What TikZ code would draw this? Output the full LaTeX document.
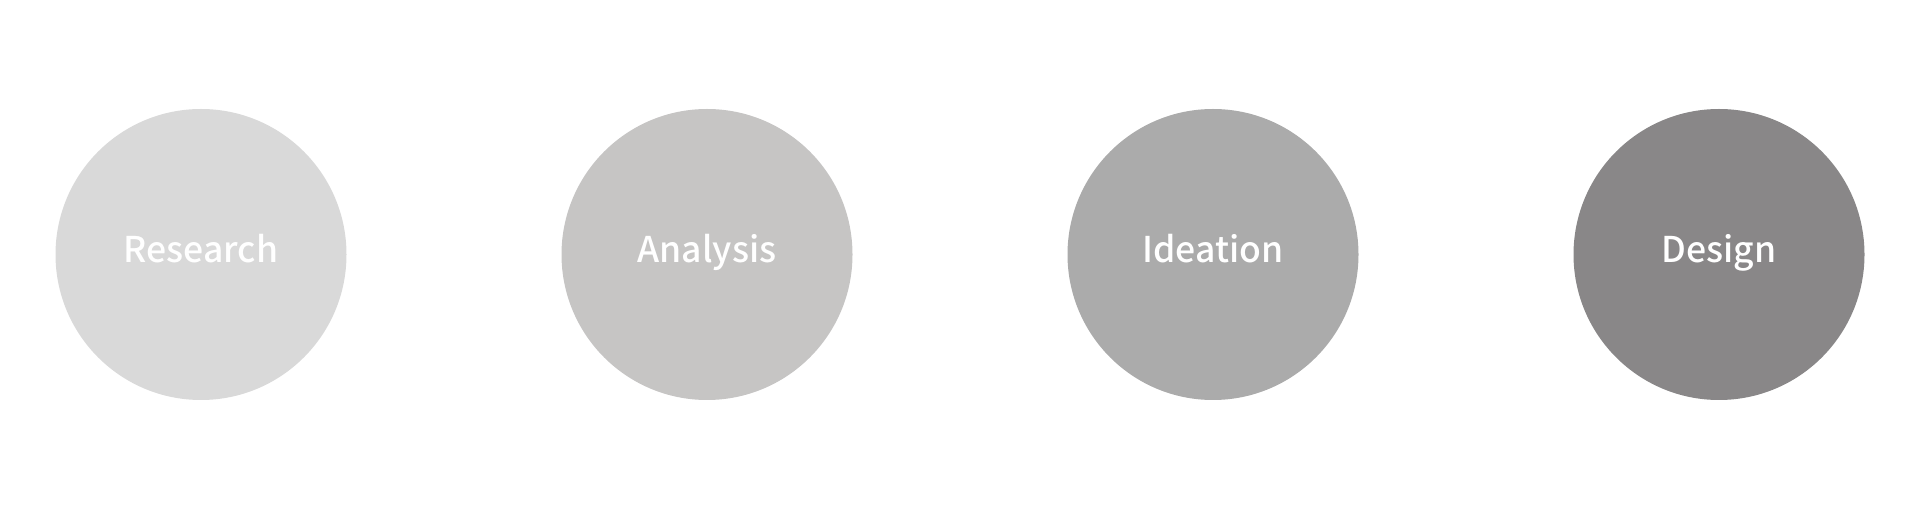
\documentclass[tikz,border=0pt]{standalone}
\usepackage{fontspec}
\newfontfamily\labfont{Noto Sans CJK SC}[UprightFont={* Medium}]
\definecolor{cA}{HTML}{D9D9D9}
\definecolor{cB}{HTML}{C6C5C4}
\definecolor{cC}{HTML}{ABABAB}
\definecolor{cD}{HTML}{898788}
\begin{document}
\begin{tikzpicture}[x=1pt,y=1pt,
  stage/.style={circle,minimum size=291pt,inner sep=0pt,draw=none,text=white,
    text height=25pt,text depth=9pt,font=\labfont\fontsize{35.5}{40}\selectfont}]
\useasboundingbox (0,0) rectangle (1920,509);
\node[stage,fill=cA] (research) at (201,254.5) {Research};
\node[stage,fill=cB] (analysis) at (707,254.5) {Analysis};
\node[stage,fill=cC] (ideation) at (1213,254.5) {Ideation};
\node[stage,fill=cD] (design) at (1719,254.5) {Design};
\end{tikzpicture}
\end{document}
